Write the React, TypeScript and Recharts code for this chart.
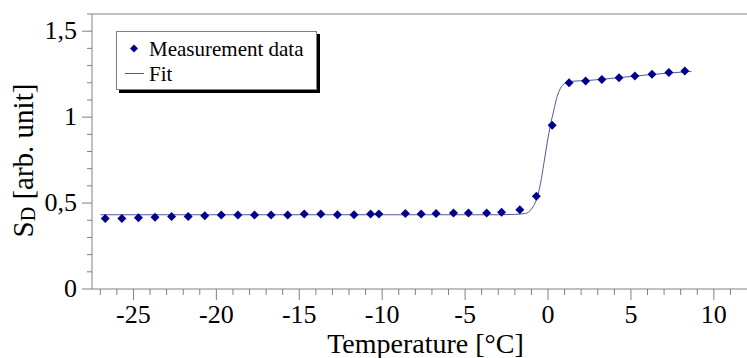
import {
  ComposedChart,
  Line,
  Scatter,
  XAxis,
  YAxis,
  Legend,
  ReferenceLine,
  Label,
} from "recharts";

// measurement points, temperature in °C
const measT = [
  -26.7, -25.7, -24.7, -23.7, -22.7, -21.7, -20.7, -19.7, -18.7, -17.7, -16.7,
  -15.7, -14.7, -13.7, -12.7, -11.7, -10.7, -10.2, -8.6, -7.65, -6.75, -5.7,
  -4.8, -3.7, -2.8, -1.7, -0.7, 0.25, 1.27, 2.27, 3.25, 4.28, 5.24, 6.27, 7.29,
  8.25,
];
const measS = [
  0.41, 0.41, 0.414, 0.418, 0.422, 0.422, 0.426, 0.43, 0.43, 0.43, 0.43, 0.43,
  0.436, 0.436, 0.432, 0.432, 0.436, 0.436, 0.44, 0.436, 0.44, 0.442, 0.442,
  0.442, 0.447, 0.461, 0.54, 0.953, 1.2, 1.21, 1.219, 1.229, 1.24, 1.25, 1.259,
  1.268,
];

// fit curve
const fitT = [
  -27, -3, -2, -1.35, -1.0, -0.65, -0.45, -0.25, -0.05, 0.15, 0.35, 0.55, 0.75,
  1.05, 1.4, 2.5, 4, 6, 8.65,
];
const fitS = [
  0.432, 0.432, 0.434, 0.44, 0.465, 0.535, 0.615, 0.73, 0.85, 0.955, 1.04, 1.12,
  1.168, 1.198, 1.208, 1.214, 1.227, 1.246, 1.266,
];

const xTicks = [
  -27, -26, -25, -24, -23, -22, -21, -20, -19, -18, -17, -16, -15, -14, -13, -12,
  -11, -10, -9, -8, -7, -6, -5, -4, -3, -2, -1, 0, 1, 2, 3, 4, 5, 6, 7, 8, 9, 10,
  11,
];
const xMajor = [-25, -20, -15, -10, -5, 0, 5, 10];
const yTicks = [
  0, 0.1, 0.2, 0.3, 0.4, 0.5, 0.6, 0.7, 0.8, 0.9, 1, 1.1, 1.2, 1.3, 1.4, 1.5, 1.6,
];
const yMajor = [0, 0.5, 1, 1.5];

const measData = measT.map((t, i) => ({ t, s: measS[i] }));
const fitData = fitT.map((t, i) => ({ t, s: fitS[i] }));

const FONT = '"Liberation Serif", "Times New Roman", serif';
const AXIS = "#808080";
const MARK = "#00008b";
const FIT = "#55559a";

const fmt = (v: number) => String(v).replace(".", ",");

const XTick = (props: any) => {
  const { x, y, payload } = props;
  const major = xMajor.includes(payload.value);
  return (
    <g>
      <line x1={x} x2={x} y1={y} y2={y + (major ? 11 : 6)} stroke={AXIS} />
      {major && (
        <text x={x} y={y + 34} textAnchor="middle" fontFamily={FONT} fontSize={26} fill="#000">
          {payload.value}
        </text>
      )}
    </g>
  );
};

const YTick = (props: any) => {
  const { x, y, payload } = props;
  const major = yMajor.some((m) => Math.abs(m - payload.value) < 1e-9);
  return (
    <g>
      <line x1={x} x2={x - (major ? 10 : 5)} y1={y} y2={y} stroke={AXIS} />
      {major && (
        <text x={x - 15} y={y + 8} textAnchor="end" fontFamily={FONT} fontSize={26} fill="#000">
          {fmt(payload.value)}
        </text>
      )}
    </g>
  );
};

const Diamond = (props: any) => {
  const { cx, cy } = props;
  const r = 4.5;
  return (
    <path
      d={`M${cx},${cy - r}L${cx + r},${cy}L${cx},${cy + r}L${cx - r},${cy}Z`}
      fill={MARK}
    />
  );
};

const YTitle = (props: any) => {
  const vb = props.viewBox;
  const cx = vb.x + 23;
  const cy = vb.y + vb.height / 2 + 9;
  return (
    <text
      x={cx}
      y={cy}
      transform={`rotate(-90 ${cx} ${cy})`}
      textAnchor="middle"
      fontFamily={FONT}
      fontSize={29}
      fill="#000"
      dominantBaseline="central"
    >
      S
      <tspan dy={5} fontSize={20}>D</tspan>
      <tspan dy={-5}> [arb. unit]</tspan>
    </text>
  );
};

const XTitle = (props: any) => {
  const vb = props.viewBox;
  return (
    <text
      x={vb.x + vb.width / 2 + 6}
      y={vb.y + 64}
      textAnchor="middle"
      fontFamily={FONT}
      fontSize={28}
      fill="#000"
    >
      Temperature [°C]
    </text>
  );
};

const LegendBox = () => (
  <div
    style={{
      width: 199,
      height: 57,
      border: `1px solid ${AXIS}`,
      background: "#fff",
      boxShadow: "3px 3px 0 #000",
    }}
  >
    <svg width={199} height={57}>
      <path d="M17,12.5L21,16.5L17,20.5L13,16.5Z" fill={MARK} />
      <text x={32} y={23.5} fontFamily={FONT} fontSize={21} fill="#000">
        Measurement data
      </text>
      <line x1={8} x2={27} y1={41.5} y2={41.5} stroke={FIT} />
      <text x={32} y={48.5} fontFamily={FONT} fontSize={21} fill="#000">
        Fit
      </text>
    </svg>
  </div>
);

export default function App() {
  return (
    <div style={{ position: "absolute", left: 0, top: 0, background: "#fff" }}>
      <ComposedChart
        width={747}
        height={358}
        margin={{ top: 14, right: 0, bottom: 0, left: 0 }}
      >
        <XAxis
          type="number"
          dataKey="t"
          domain={[-27.5, 12]}
          ticks={xTicks}
          interval={0}
          tick={<XTick />}
          tickLine={false}
          tickSize={0}
          tickMargin={0}
          height={69}
          allowDataOverflow
          axisLine={{ stroke: AXIS }}
        >
          <Label content={<XTitle />} />
        </XAxis>
        <YAxis
          type="number"
          dataKey="s"
          domain={[0, 1.6]}
          ticks={yTicks}
          interval={0}
          tick={<YTick />}
          tickLine={false}
          tickSize={0}
          tickMargin={0}
          width={92}
          allowDataOverflow
          axisLine={{ stroke: AXIS }}
        >
          <Label content={<YTitle />} />
        </YAxis>
        <ReferenceLine y={1.6} stroke={AXIS} />
        <Legend
          layout="horizontal"
          verticalAlign="middle"
          align="center"
          content={<LegendBox />}
          wrapperStyle={{ left: 116, top: 31, width: "auto" }}
        />
        <Line
          data={fitData}
          dataKey="s"
          name="Fit"
          type="monotone"
          stroke={FIT}
          strokeWidth={1}
          dot={false}
          activeDot={false}
          isAnimationActive={false}
        />
        <Scatter
          data={measData}
          dataKey="s"
          name="Measurement data"
          shape={<Diamond />}
          isAnimationActive={false}
        />
      </ComposedChart>
    </div>
  );
}
